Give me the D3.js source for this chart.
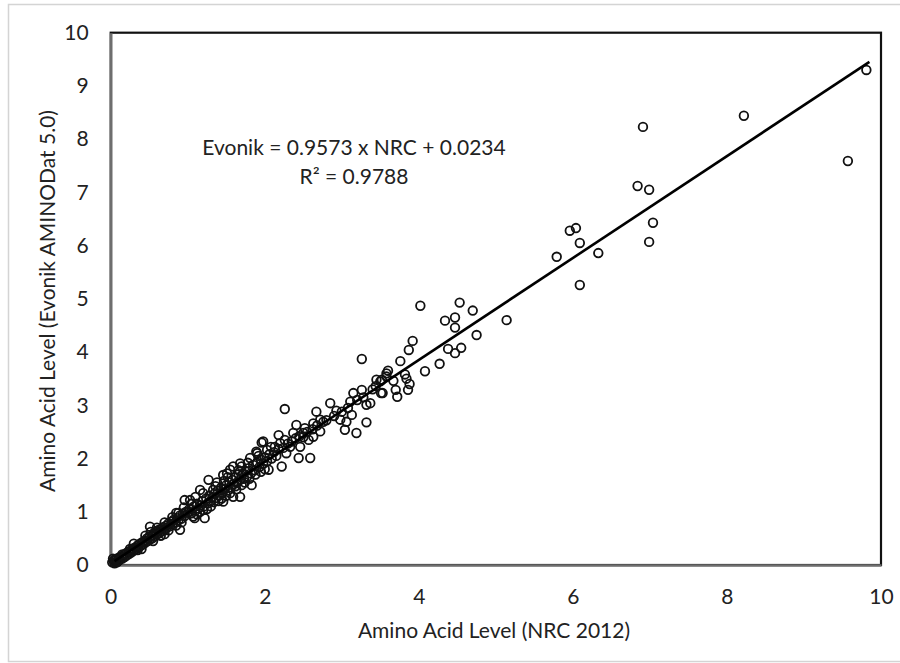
<!DOCTYPE html>
<html>
<head>
<meta charset="utf-8">
<script src="https://cdn.jsdelivr.net/npm/d3@7"></script>
<style>
  body { margin: 0; background: #fff; }
  svg { display: block; font-family: Lato, "Open Sans", sans-serif; }
</style>
</head>
<body>
<svg id="chart" width="900" height="663"></svg>
<script>
// axis ticks
const xTicks = [0, 2, 4, 6, 8, 10];
const yTicks = [0, 1, 2, 3, 4, 5, 6, 7, 8, 9, 10];

// regression from the chart
const slope = 0.9573;
const intercept = 0.0234;
const fitRange = [0.05, 9.85];

// [NRC 2012, Evonik AMINODat 5.0] pairs
const points = [
  [9.81, 9.30], [9.57, 7.59], [8.22, 8.44], [6.91, 8.23], [6.84, 7.12], [6.99, 7.05],
  [7.04, 6.43], [6.99, 6.07], [6.33, 5.86], [6.09, 5.26], [6.09, 6.05], [6.04, 6.33],
  [5.96, 6.28], [5.79, 5.79], [5.14, 4.60], [4.75, 4.32],
  [4.02, 4.87], [4.53, 4.93], [4.70, 4.78], [4.34, 4.59], [4.47, 4.65], [4.47, 4.46],
  [3.92, 4.21], [3.87, 4.04], [4.38, 4.06], [4.47, 3.98], [4.55, 4.08], [3.76, 3.83],
  [4.27, 3.78], [4.08, 3.64], [3.60, 3.65], [3.82, 3.58], [3.84, 3.50], [3.67, 3.46],
  [3.88, 3.40], [3.86, 3.29], [3.53, 3.23], [3.70, 3.29], [3.72, 3.16], [3.52, 3.48],
  [3.58, 3.54],
  [3.26, 3.87], [2.26, 2.93], [2.85, 3.04], [2.67, 2.88], [2.93, 2.90], [3.11, 3.07],
  [3.15, 3.23], [3.26, 3.29], [3.45, 3.48], [3.58, 3.60], [3.50, 3.45], [3.51, 3.23],
  [3.32, 3.01], [3.37, 3.04], [3.13, 2.82], [2.98, 2.73], [3.06, 2.69], [3.32, 2.68],
  [3.04, 2.54], [3.19, 2.48], [2.72, 2.73], [2.72, 2.51], [2.63, 2.66], [2.52, 2.57],
  [2.41, 2.63], [2.37, 2.48], [2.57, 2.35], [2.63, 2.41], [2.46, 2.22], [2.59, 2.01],
  [2.44, 2.01], [2.28, 2.10], [2.26, 2.35], [2.22, 1.85], [2.33, 2.22], [2.20, 2.29],
  [2.76, 2.69], [2.18, 2.44], [1.96, 2.30], [2.50, 2.48], [2.05, 1.79], [1.27, 1.60],
  [1.46, 1.69], [1.68, 1.91], [1.81, 2.01], [1.90, 2.10], [2.03, 2.16], [2.13, 2.22],
  [1.55, 1.79], [1.72, 1.72], [1.83, 1.50], [1.59, 1.28], [1.44, 1.25], [1.70, 1.50],
  [1.20, 1.03], [1.22, 0.88], [1.07, 0.91], [1.33, 1.41], [1.16, 1.41], [1.03, 1.22],
  [0.96, 1.22], [0.90, 0.66], [1.09, 0.88], [1.89, 2.13], [1.98, 2.32], [1.68, 1.28],
  [1.46, 1.19], [0.51, 0.72], [1.59, 1.85], [1.51, 1.72],
  [1.00, 0.98], [1.02, 1.05], [1.05, 0.97], [1.08, 1.10], [1.10, 1.02], [1.12, 1.15],
  [1.14, 1.06], [1.17, 1.12], [1.19, 1.20], [1.21, 1.10], [1.24, 1.25], [1.26, 1.16],
  [1.28, 1.30], [1.30, 1.20], [1.32, 1.27], [1.35, 1.35], [1.37, 1.26], [1.39, 1.40],
  [1.41, 1.31], [1.43, 1.45], [1.45, 1.36], [1.48, 1.42], [1.50, 1.50], [1.52, 1.40],
  [1.54, 1.55], [1.56, 1.46], [1.58, 1.60], [1.60, 1.52], [1.62, 1.65], [1.64, 1.55],
  [1.66, 1.70], [1.68, 1.60], [1.70, 1.68], [1.73, 1.62], [1.75, 1.76], [1.77, 1.66],
  [1.79, 1.82], [1.82, 1.72], [1.85, 1.88], [1.87, 1.78], [1.90, 1.92], [1.93, 1.84],
  [1.95, 1.98], [1.98, 1.90], [2.00, 2.02], [2.03, 1.95], [2.06, 2.08], [2.09, 2.00],
  [2.12, 2.12], [2.15, 2.05], [2.18, 2.18], [2.24, 2.20], [2.30, 2.28], [2.35, 2.32],
  [2.40, 2.38], [2.45, 2.42], [2.50, 2.40], [2.55, 2.50], [2.62, 2.55], [2.68, 2.62],
  [2.80, 2.72], [2.90, 2.80], [3.00, 2.88], [3.08, 2.95], [3.20, 3.10], [3.28, 3.15],
  [3.40, 3.30], [3.44, 3.36],
  [1.10, 1.28], [1.25, 1.05], [1.36, 1.48], [1.40, 1.20], [1.47, 1.58], [1.55, 1.35],
  [1.63, 1.42], [1.66, 1.78], [1.74, 1.55], [1.78, 1.92], [1.88, 1.70], [1.92, 2.05],
  [2.00, 1.80], [2.08, 2.22], [1.16, 1.00], [1.30, 1.10], [1.05, 1.15],
  [1.12, 0.95], [1.34, 1.18], [1.50, 1.30], [1.62, 1.48], [1.80, 1.62], [1.95, 1.75],
  [1.20, 1.35], [1.38, 1.55], [1.52, 1.65], [1.70, 1.85], [0.95, 1.08], [0.85, 0.98],
  [0.05, 0.10], [0.06, 0.05], [0.08, 0.12], [0.10, 0.08], [0.11, 0.14], [0.12, 0.10],
  [0.14, 0.16], [0.15, 0.12], [0.17, 0.19], [0.18, 0.15], [0.20, 0.22], [0.21, 0.18],
  [0.23, 0.25], [0.24, 0.21], [0.26, 0.27], [0.27, 0.24], [0.29, 0.31], [0.30, 0.27],
  [0.32, 0.33], [0.33, 0.30], [0.35, 0.37], [0.36, 0.33], [0.38, 0.40], [0.39, 0.36],
  [0.41, 0.43], [0.42, 0.39], [0.44, 0.45], [0.45, 0.42], [0.47, 0.50], [0.48, 0.45],
  [0.50, 0.53], [0.51, 0.48], [0.53, 0.55], [0.54, 0.50], [0.56, 0.60], [0.57, 0.54],
  [0.59, 0.62], [0.60, 0.57], [0.62, 0.66], [0.63, 0.60], [0.65, 0.67], [0.66, 0.63],
  [0.68, 0.71], [0.70, 0.66], [0.72, 0.74], [0.73, 0.70], [0.75, 0.78], [0.77, 0.73],
  [0.79, 0.82], [0.80, 0.77], [0.82, 0.85], [0.84, 0.80], [0.86, 0.88], [0.88, 0.84],
  [0.90, 0.93], [0.92, 0.87], [0.94, 0.97], [0.96, 0.92], [0.98, 1.00],
  [0.30, 0.40], [0.40, 0.30], [0.52, 0.62], [0.55, 0.45], [0.60, 0.70], [0.65, 0.55],
  [0.70, 0.80], [0.75, 0.65], [0.80, 0.90], [0.85, 0.74], [0.88, 0.98], [0.92, 0.80],
  [0.70, 0.58], [0.45, 0.55], [0.35, 0.28], [0.25, 0.30], [0.15, 0.20], [0.08, 0.05],
  [0.03, 0.12], [0.05, 0.03], [0.02, 0.05], [0.04, 0.08], [0.06, 0.10], [0.09, 0.07]
];

const svg = d3.select("#chart");

// outer chart frame
svg.append("rect")
  .attr("x", 8.5).attr("y", 4.5)
  .attr("width", 900).attr("height", 657)
  .attr("fill", "#fff")
  .attr("stroke", "#d4d4d4")
  .attr("stroke-width", 1.5);

const plot = { left: 110.7, right: 881, top: 32.7, bottom: 565 };

const x = d3.scaleLinear().domain([0, 10]).range([plot.left, plot.right]);
const y = d3.scaleLinear().domain([0, 10]).range([plot.bottom, plot.top]);

// plot area border
svg.append("rect")
  .attr("x", plot.left).attr("y", plot.top)
  .attr("width", plot.right - plot.left)
  .attr("height", plot.bottom - plot.top)
  .attr("fill", "none")
  .attr("stroke", "#111")
  .attr("stroke-width", 2.2);

const fontSize = 21;

// axes: no tick marks, gray axis line
const xAxis = svg.append("g")
  .attr("transform", `translate(0,${plot.bottom})`)
  .call(d3.axisBottom(x).tickValues(xTicks).tickSize(0).tickPadding(24).tickFormat(d3.format("d")));
const yAxis = svg.append("g")
  .attr("transform", `translate(${plot.left},0)`)
  .call(d3.axisLeft(y).tickValues(yTicks).tickSize(0).tickPadding(22).tickFormat(d3.format("d")));

[xAxis, yAxis].forEach(g => {
  g.select(".domain").attr("stroke", "#6e6e6e").attr("stroke-width", 2.6);
  g.selectAll("text")
    .attr("font-family", "Lato, 'Open Sans', sans-serif")
    .attr("font-size", fontSize)
    .attr("fill", "#222");
});

// scatter markers
svg.append("g")
  .selectAll("circle")
  .data(points)
  .join("circle")
  .attr("cx", d => x(d[0]))
  .attr("cy", d => y(d[1]))
  .attr("r", 4.3)
  .attr("fill", "none")
  .attr("stroke", "#111")
  .attr("stroke-width", 1.8);

// trend line
svg.append("line")
  .attr("x1", x(fitRange[0])).attr("y1", y(slope * fitRange[0] + intercept))
  .attr("x2", x(fitRange[1])).attr("y2", y(slope * fitRange[1] + intercept))
  .attr("stroke", "#000")
  .attr("stroke-width", 2.6);

// equation label
const eq = svg.append("g")
  .attr("font-size", fontSize)
  .attr("fill", "#222")
  .attr("text-anchor", "middle");
eq.append("text").attr("x", 354).attr("y", 155)
  .text(`Evonik = ${slope} x NRC + ${intercept}`);
eq.append("text").attr("x", 354).attr("y", 184)
  .text("R² = 0.9788");

// axis titles
svg.append("text")
  .attr("x", 494).attr("y", 638)
  .attr("text-anchor", "middle")
  .attr("font-size", fontSize)
  .attr("fill", "#222")
  .text("Amino Acid Level (NRC 2012)");

svg.append("text")
  .attr("transform", "translate(55,301) rotate(-90)")
  .attr("text-anchor", "middle")
  .attr("font-size", fontSize)
  .attr("fill", "#222")
  .text("Amino Acid Level (Evonik AMINODat 5.0)");
</script>
</body>
</html>
